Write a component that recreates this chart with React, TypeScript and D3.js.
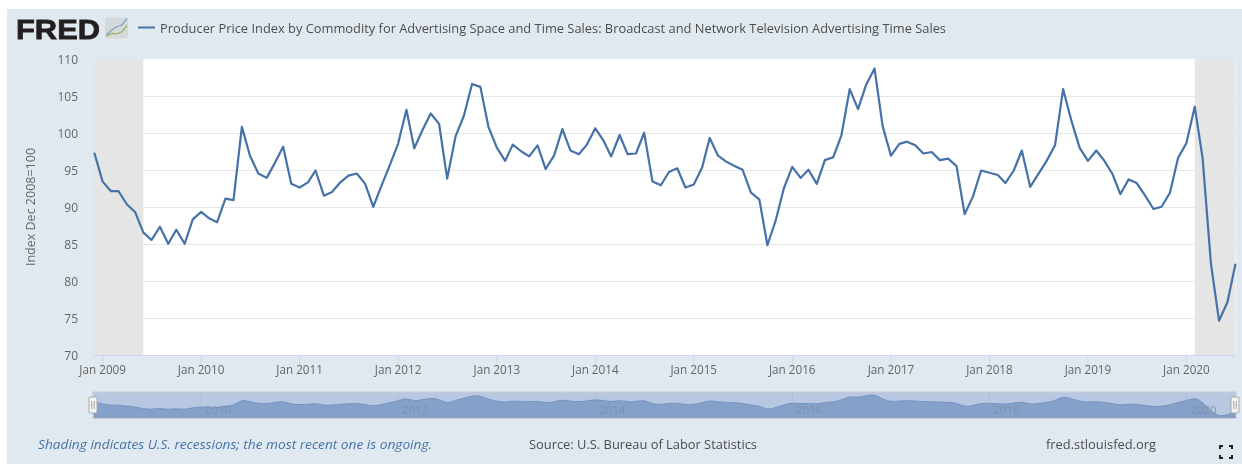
import React from "react";
import * as d3 from "d3";

const startYear = 2008;
const startMonth = 11; // first observation: December 2008
const seriesValues = [
  97.4, 93.5, 92.2, 92.2, 90.4, 89.4, 86.6, 85.6, 87.4, 85.1, 87.0, 85.1, 88.4,
  89.4, 88.5, 88.0, 91.2, 91.0, 100.9, 97.0, 94.6, 94.0, 96.0, 98.2, 93.2,
  92.7, 93.4, 95.0, 91.6, 92.1, 93.4, 94.3, 94.6, 93.2, 90.1, 93.0, 95.7,
  98.6, 103.2, 98.0, 100.5, 102.7, 101.3, 93.9, 99.6, 102.4, 106.7, 106.3, 100.9,
  98.1, 96.3, 98.5, 97.6, 96.9, 98.4, 95.2, 97.0, 100.6, 97.7, 97.2, 98.5,
  100.7, 99.0, 96.9, 99.8, 97.2, 97.3, 100.1, 93.5, 93.0, 94.8, 95.3, 92.7,
  93.1, 95.4, 99.4, 97.0, 96.2, 95.6, 95.1, 92.0, 91.1, 84.9, 88.3, 92.6,
  95.5, 94.0, 95.1, 93.2, 96.4, 96.8, 99.7, 106.0, 103.3, 106.6, 108.8, 101.0,
  97.0, 98.6, 98.9, 98.4, 97.3, 97.5, 96.4, 96.6, 95.6, 89.1, 91.5, 95.0,
  94.7, 94.4, 93.3, 95.0, 97.7, 92.8, 94.5, 96.3, 98.4, 106.0, 101.7, 98.1,
  96.3, 97.7, 96.4, 94.6, 91.8, 93.8, 93.3, 91.6, 89.8, 90.1, 92.0, 96.7,
  98.7, 103.6, 96.7, 82.4, 74.7, 77.2, 82.4,
];
const yTicks = [70, 75, 80, 85, 90, 95, 100, 105, 110];
const xTickYears = [2009, 2010, 2011, 2012, 2013, 2014, 2015, 2016, 2017, 2018, 2019, 2020];
const navigatorYears = [2010, 2012, 2014, 2016, 2018, 2020];
const recessions: [Date, Date][] = [
  [new Date(2008, 10, 1), new Date(2009, 5, 1)],
  [new Date(2020, 1, 1), new Date(2020, 6, 1)],
];
const titleText =
  "Producer Price Index by Commodity for Advertising Space and Time Sales: Broadcast and Network Television Advertising Time Sales";
const dates = seriesValues.map((_, i) => new Date(startYear, startMonth + i, 1));
const iconBlue = [35, 30, 26.7, 25, 18.3];
const iconGreen = [36, 33.3, 34, 31.7, 25.7];

const FONT = "'Open Sans', sans-serif";
const plot = { left: 93, right: 1236, top: 59, bottom: 355.5 };
const nav = { top: 392, bottom: 418.5 };

export default function App() {
  const x = d3
    .scaleTime()
    .domain([dates[0], dates[dates.length - 1]])
    .range([94.3, 1235.5]);
  const y = d3.scaleLinear().domain([70, 110]).range([plot.bottom, plot.top + 0.5]);
  const navY = d3.scaleLinear().domain([74.7, 109]).range([416.5, 394]);

  const linePath = d3
    .line<number>()
    .x((_, i) => x(dates[i]))
    .y((d) => y(d))(seriesValues)!;
  const navArea = d3
    .area<number>()
    .x((_, i) => x(dates[i]))
    .y0(nav.bottom)
    .y1((d) => navY(d))
    .curve(d3.curveBasis)(seriesValues)!;

  const handle = (cx: number) => (
    <g>
      <rect x={cx - 4} y={397} width={8} height={16} rx={1} fill="#f2f2f2" stroke="#a9a9a9" />
      <line x1={cx - 1.2} x2={cx - 1.2} y1={401} y2={409} stroke="#a9a9a9" />
      <line x1={cx + 1.2} x2={cx + 1.2} y1={401} y2={409} stroke="#a9a9a9" />
    </g>
  );

  const iconScale = d3.scaleLinear().domain([0, 4]).range([106.5, 127]);
  const iconLine = d3
    .line<number>()
    .x((_, i) => iconScale(i))
    .y((d) => d);

  return (
    <svg
      width={1242}
      height={464}
      style={{ position: "absolute", left: 0, top: 0, display: "block", filter: "blur(0.5px)" }}
      fontFamily={FONT}
    >
      <rect width={1242} height={464} fill="#ffffff" />
      <rect x={7} y={9} width={1235} height={455} fill="#e1e9f0" />

      {/* logo */}
      <text x={16} y={38.5} fontFamily="'Liberation Sans', sans-serif" fontWeight={700} fontSize={28.5}
        fill="#231f20" stroke="#231f20" strokeWidth={0.8} textLength={84} lengthAdjust="spacingAndGlyphs">FRED</text>
      <rect x={105} y={17.5} width={23} height={21} rx={2} fill="#d5d9dc" />
      <path d={iconLine(iconBlue)!} fill="none" stroke="#7d9cc0" strokeWidth={1.1} />
      <path d={iconLine(iconGreen)!} fill="none" stroke="#8fb04e" strokeWidth={1.1} />

      {/* legend */}
      <line x1={138} x2={155} y1={27.5} y2={27.5} stroke="#4572a7" strokeWidth={2} />
      <text x={160} y={32.5} fontSize={12.2} fill="#4d4d4d" textLength={786} lengthAdjust="spacingAndGlyphs">{titleText}</text>

      {/* plot */}
      <rect x={plot.left} y={plot.top} width={plot.right - plot.left} height={plot.bottom - plot.top} fill="#ffffff" />
      {yTicks.slice(1, -1).map((t) => (
        <line key={t} x1={plot.left} x2={plot.right} y1={y(t)} y2={y(t)} stroke="#e6e6e6" strokeWidth={1} />
      ))}
      {recessions.map(([a, b], i) => (
        <rect key={i} x={Math.max(x(a), plot.left)} y={plot.top} width={x(b) - Math.max(x(a), plot.left)}
          height={plot.bottom - plot.top} fill="#e5e5e5" />
      ))}
      <line x1={plot.left} x2={plot.right} y1={plot.bottom} y2={plot.bottom} stroke="#ccd6eb" />
      {xTickYears.map((yr) => {
        const px = x(new Date(yr, 0, 1));
        return (
          <g key={yr}>
            <line x1={px} x2={px} y1={plot.bottom} y2={plot.bottom + 10} stroke="#ccd6eb" />
            <text x={px} y={374} textAnchor="middle" fontSize={11.7} fill="#666666">{`Jan ${yr}`}</text>
          </g>
        );
      })}
      {yTicks.map((t) => (
        <text key={t} x={78} y={y(t) + 4} textAnchor="end" fontSize={12} fill="#666666">{t}</text>
      ))}
      <text transform="translate(34.5,207) rotate(-90)" textAnchor="middle" fontSize={12.5} fill="#666666">Index Dec 2008=100</text>
      <path d={linePath} fill="none" stroke="#4572a7" strokeWidth={2.2} strokeLinejoin="round" />

      {/* navigator */}
      <rect x={plot.left} y={nav.top} width={plot.right - plot.left} height={nav.bottom - nav.top} fill="#b9c8e2" />
      {navigatorYears.map((yr) => (
        <line key={yr} x1={x(new Date(yr, 0, 1))} x2={x(new Date(yr, 0, 1))} y1={nav.top} y2={nav.bottom} stroke="#aebcd6" />
      ))}
      <path d={navArea} fill="#85a0c9" stroke="#6d8dbd" strokeWidth={0.8} />
      {navigatorYears.map((yr) => (
        <text key={yr} x={x(new Date(yr, 0, 1)) + 17} y={414} textAnchor="middle" fontSize={11.5} fill="#7f8fa9" fillOpacity={0.9}>{yr}</text>
      ))}
      <rect x={plot.left} y={nav.top} width={plot.right - plot.left} height={nav.bottom - nav.top} fill="none" stroke="#cccccc" />
      {handle(plot.left)}
      {handle(plot.right - 1)}

      {/* footer */}
      <text x={38} y={449} fontSize={12.5} fontStyle="italic" fill="#4572a7" textLength={394} lengthAdjust="spacingAndGlyphs">Shading indicates U.S. recessions; the most recent one is ongoing.</text>
      <text x={529} y={449} fontSize={12.5} fill="#4d4d4d" textLength={228} lengthAdjust="spacingAndGlyphs">Source: U.S. Bureau of Labor Statistics</text>
      <text x={1046} y={449} fontSize={12.5} fill="#4d4d4d" textLength={110} lengthAdjust="spacingAndGlyphs">fred.stlouisfed.org</text>

      {/* fullscreen icon */}
      <g fill="none" stroke="#222222" strokeWidth={2}>
        <path d="M1220 449 V446 H1223" />
        <path d="M1229 446 H1232 V449" />
        <path d="M1220 455 V458 H1223" />
        <path d="M1229 458 H1232 V455" />
      </g>
    </svg>
  );
}
